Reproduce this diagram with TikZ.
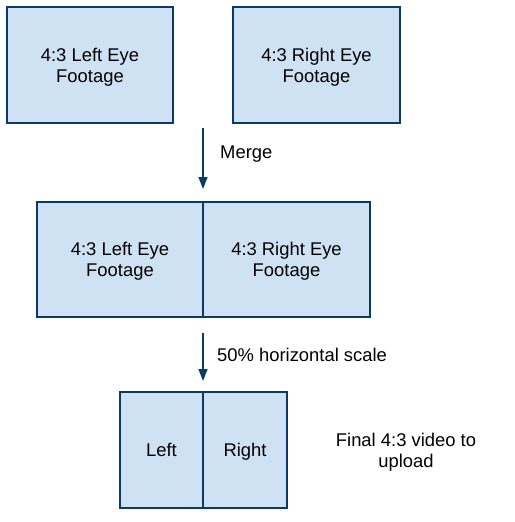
\documentclass[tikz,border=0pt]{standalone}
\usepackage{fontspec}
\setmainfont{Liberation Sans}
\usetikzlibrary{arrows.meta}
\definecolor{boxfill}{HTML}{CFE2F3}
\definecolor{boxline}{HTML}{0B3A66}
\tikzset{
  panel/.style={draw=boxline, fill=boxfill, line width=1.6pt, inner sep=0pt, align=center},
  flow/.style={draw=boxline, line width=1.6pt, -{Triangle[length=12pt,width=9pt]}},
  lbl/.style={inner sep=0pt, align=center}
}
\begin{document}
\begin{tikzpicture}[x=1pt, y=-1pt, font=\fontsize{18.4}{21}\selectfont]
\useasboundingbox (0,0) rectangle (514,522);
% top boxes
\node[panel, minimum width=166pt, minimum height=116pt] (tl) at (90,65) {};
\node[lbl] (tlt) at (90,67) {4:3 Left Eye\\Footage};
\node[panel, minimum width=167pt, minimum height=116pt] (tr) at (316.5,65) {};
\node[lbl] (trt) at (316.5,67) {4:3 Right Eye\\Footage};
% merge arrow
\coordinate (a1s) at (203,128);
\coordinate (a1e) at (203,189);
\draw[flow] (a1s) -- (a1e);
\node[lbl, anchor=west] (merge) at (220,154) {Merge};
% middle boxes
\node[panel, minimum width=166pt, minimum height=115pt] (ml) at (120,259.5) {};
\node[lbl] (mlt) at (120,261.5) {4:3 Left Eye\\Footage};
\node[panel, minimum width=167pt, minimum height=115pt] (mr) at (286.5,259.5) {};
\node[lbl] (mrt) at (286.5,261.5) {4:3 Right Eye\\Footage};
% scale arrow
\coordinate (a2s) at (203,333);
\coordinate (a2e) at (203,381);
\draw[flow] (a2s) -- (a2e);
\node[lbl, anchor=west] (scale) at (217,355) {50\% horizontal scale};
% bottom boxes
\node[panel, minimum width=83pt, minimum height=116pt] (bl) at (161.5,450) {};
\node[lbl, text height=13pt, text depth=4pt] (blt) at (161.5,452) {Left};
\node[panel, minimum width=84pt, minimum height=116pt] (br) at (245,450) {};
\node[lbl, text height=13pt, text depth=4pt] (brt) at (245,452) {Right};
\node[lbl] (final) at (406,452) {Final 4:3 video to\\upload};
\end{tikzpicture}
\end{document}
